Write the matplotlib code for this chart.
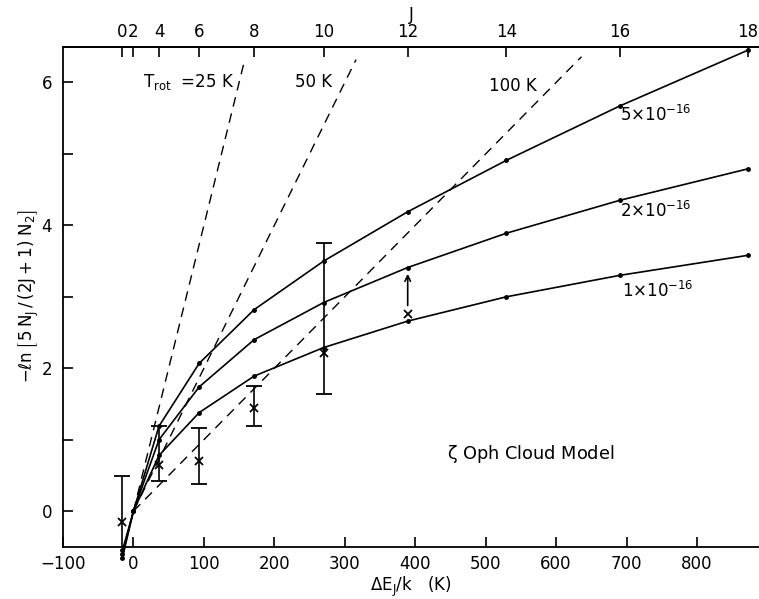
import numpy as np
import matplotlib
matplotlib.use("Agg")
import matplotlib.pyplot as plt

plt.rcParams['font.family'] = ['DejaVu Sans']
plt.rcParams['mathtext.default'] = 'regular'

# Rotational levels J and their energies above J=2 (K)
J_levels = [0, 2, 4, 6, 8, 10, 12, 14, 16, 18]
dE = [-15.6, 0.0, 36.3, 93.4, 171.3, 270.0, 389.3, 529.4, 690.2, 871.9]

# Model curves (-ln[5N_J/((2J+1)N_2)])
model_5e16 = [-0.55, 0.0, 1.19, 2.07, 2.82, 3.50, 4.19, 4.91, 5.67, 6.45]
model_2e16 = [-0.60, 0.0, 1.00, 1.74, 2.40, 2.92, 3.41, 3.89, 4.35, 4.79]
model_1e16 = [-0.65, 0.0, 0.78, 1.38, 1.89, 2.29, 2.66, 3.00, 3.30, 3.58]

# Observations
obs_x = [-15.6, 36.3, 93.4, 171.3, 270.0]
obs_y = [-0.15, 0.65, 0.70, 1.45, 2.21]
obs_lo = [-0.70, 0.42, 0.38, 1.19, 1.64]
obs_hi = [0.49, 1.19, 1.17, 1.75, 3.75]
# Lower limit at J=12
lim_x = 389.3
lim_y = 2.76
lim_to = 3.36

# Rotational temperature lines
T_rot = [25, 50, 100]
T_ymax = [6.28, 6.32, 6.36]

fig = plt.figure(figsize=(7.59, 5.99), dpi=100)
ax = fig.add_axes([0.083, 0.087, 0.917, 0.835])

lw = 1.2
for yv in (model_5e16, model_2e16, model_1e16):
    ax.plot(dE, yv, color='black', lw=lw, marker='o', ms=2.5, clip_on=False, zorder=3)

for T, ym in zip(T_rot, T_ymax):
    xs = np.array([0.0, ym * T])
    ax.plot(xs, xs / T, color='black', lw=1.0, ls=(0, (7, 5)))

yerr = [np.array(obs_y) - np.array(obs_lo), np.array(obs_hi) - np.array(obs_y)]
ax.errorbar(obs_x, obs_y, yerr=yerr, fmt='x', color='black', ms=6, mew=1.3,
            elinewidth=1.2, capsize=6, capthick=1.2)
ax.plot([lim_x], [lim_y], 'x', color='black', ms=6, mew=1.3)
ax.annotate('', xy=(lim_x, lim_to), xytext=(lim_x, lim_y + 0.08),
            arrowprops=dict(arrowstyle='->', color='black', lw=1.2))

ax.set_xlim(-100, 888)
ax.set_ylim(-0.5, 6.5)

fs = 12
ax.text(14, 6.0, r'$T_{rot}$  =25 K', fontsize=fs, va='center', ha='left')
ax.text(230, 6.0, '50 K', fontsize=fs, va='center', ha='left')
ax.text(505, 5.95, '100 K', fontsize=fs, va='center', ha='left')
ax.text(690, 5.55, r'5$\times$10$^{-16}$', fontsize=fs, va='center', ha='left')
ax.text(690, 4.2, r'2$\times$10$^{-16}$', fontsize=fs, va='center', ha='left')
ax.text(693, 3.08, r'1$\times$10$^{-16}$', fontsize=fs, va='center', ha='left')
ax.text(445, 0.8, r'$\zeta$ Oph Cloud Model', fontsize=12.8, va='center', ha='left')

ax.set_xticks(np.arange(-100, 801, 100))
ax.set_xticklabels(['\u2212100'] + [str(v) for v in range(0, 801, 100)])
ax.set_yticks([0, 2, 4, 6])
ax.set_yticks([1, 3, 5], minor=True)
ax.tick_params(axis='both', which='both', direction='in', labelsize=fs,
               width=1.2)
ax.tick_params(axis='both', which='major', length=7)
ax.tick_params(axis='x', which='major', pad=6)
ax.tick_params(axis='y', which='major', pad=8)
ax.tick_params(axis='y', which='minor', length=7)
ax.spines['right'].set_visible(False)
for s in ('left', 'bottom', 'top'):
    ax.spines[s].set_linewidth(1.3)

ax.set_xlabel(r'$\Delta E_J/k$   (K)', fontsize=fs, labelpad=1)
ax.set_ylabel(r'$-\ell$n$\,\left[\,5\,N_J\,/\,(2J+1)\;N_2\right]$', fontsize=fs, labelpad=0)

top = ax.secondary_xaxis('top')
top.set_xticks(dE)
top.set_xticklabels([str(j) for j in J_levels])
top.tick_params(direction='in', length=7, width=1.2, labelsize=fs, pad=4)
top.set_xlabel('J', fontsize=fs, labelpad=2)
top.spines['top'].set_linewidth(1.3)

fig.savefig('out.png', dpi=100)
